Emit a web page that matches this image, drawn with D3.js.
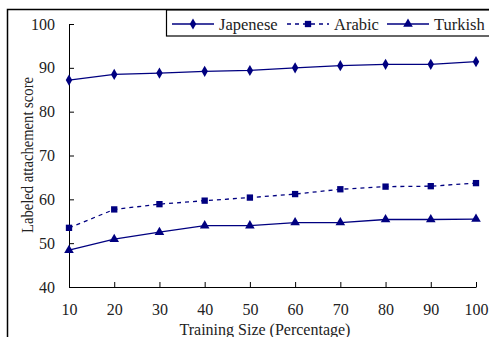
<!DOCTYPE html>
<html><head><meta charset="utf-8">
<script src="https://cdn.jsdelivr.net/npm/d3@7"></script>
<style>body{margin:0;background:#fff}svg{display:block}</style>
</head><body>
<script>
const sizes = [10,20,30,40,50,60,70,80,90,100];
const japanese = [87.2,88.5,88.8,89.2,89.4,90.0,90.5,90.8,90.8,91.4];
const arabic = [53.5,57.7,58.9,59.7,60.4,61.2,62.3,62.9,63.0,63.7];
const turkish = [48.4,50.9,52.5,54.0,54.0,54.7,54.7,55.4,55.4,55.5];
const yTicks = [40,50,60,70,80,90,100];
const seriesNames = ["Japenese","Arabic","Turkish"];

const W=489,H=337, navy="#000080", font="'Liberation Serif', 'DejaVu Serif', serif";
const svg=d3.select("body").append("svg").attr("width",W).attr("height",H);
svg.append("rect").attr("x",7.5).attr("y",9.5).attr("width",490).attr("height",340)
  .attr("fill","none").attr("stroke","#000").attr("stroke-width",1.5);

const x=d3.scaleLinear().domain([10,100]).range([69,476]);
const y=d3.scaleLinear().domain([40,100]).range([287,24]);

const gx=svg.append("g").attr("transform","translate(0,287)")
  .call(d3.axisBottom(x).tickValues(sizes).tickSize(-5).tickPadding(17).tickSizeOuter(0));
const gy=svg.append("g").attr("transform","translate(69,0)")
  .call(d3.axisLeft(y).tickValues(yTicks).tickSize(-5).tickPadding(14).tickSizeOuter(0));
[gx,gy].forEach(g=>{
  g.select(".domain").attr("stroke","#000");
  g.selectAll(".tick line").attr("stroke","#000");
  g.selectAll("text").attr("font-family",font).attr("font-size",16).attr("fill","#222");
});

svg.append("text").attr("x",265).attr("y",335).attr("text-anchor","middle")
  .attr("font-family",font).attr("font-size",16).attr("fill","#222").text("Training Size (Percentage)");
svg.append("text").attr("transform","translate(33,155) rotate(-90)").attr("text-anchor","middle")
  .attr("font-family",font).attr("font-size",16).attr("fill","#222")
  .attr("textLength",156).attr("lengthAdjust","spacingAndGlyphs").text("Labeled attachement score");

const series=[
  {name:seriesNames[0],vals:japanese,dash:null,sym:d3.symbolDiamond,size:36},
  {name:seriesNames[1],vals:arabic,dash:"4,4",sym:d3.symbolSquare,size:40},
  {name:seriesNames[2],vals:turkish,dash:null,sym:d3.symbolTriangle,size:40}
];
const line=d3.line().x(d=>x(d[0])).y(d=>y(d[1]));
series.forEach(s=>{
  const pts=sizes.map((v,i)=>[v,s.vals[i]]);
  svg.append("path").attr("d",line(pts)).attr("fill","none").attr("stroke",navy)
    .attr("stroke-width",1.3).attr("stroke-dasharray",s.dash);
  svg.selectAll(null).data(pts).enter().append("path")
    .attr("d",d3.symbol().type(s.sym).size(s.size))
    .attr("transform",d=>`translate(${x(d[0])},${y(d[1])})`).attr("fill",navy);
});

// legend
svg.append("rect").attr("x",166.5).attr("y",10).attr("width",330).attr("height",26)
  .attr("fill","#fff").attr("stroke","#000").attr("stroke-width",1.2);
const lx=[172,287,387];
series.forEach((s,i)=>{
  const g=svg.append("g");
  g.append("line").attr("x1",lx[i]).attr("x2",lx[i]+42).attr("y1",24).attr("y2",24)
    .attr("stroke",navy).attr("stroke-width",1.3).attr("stroke-dasharray",s.dash);
  g.append("path").attr("d",d3.symbol().type(s.sym).size(s.size))
    .attr("transform",`translate(${lx[i]+21},24)`).attr("fill",navy);
  g.append("text").attr("x",lx[i]+47).attr("y",29.5).attr("font-family",font)
    .attr("font-size",16.5).attr("fill","#222").text(s.name);
});
</script>
</body></html>
